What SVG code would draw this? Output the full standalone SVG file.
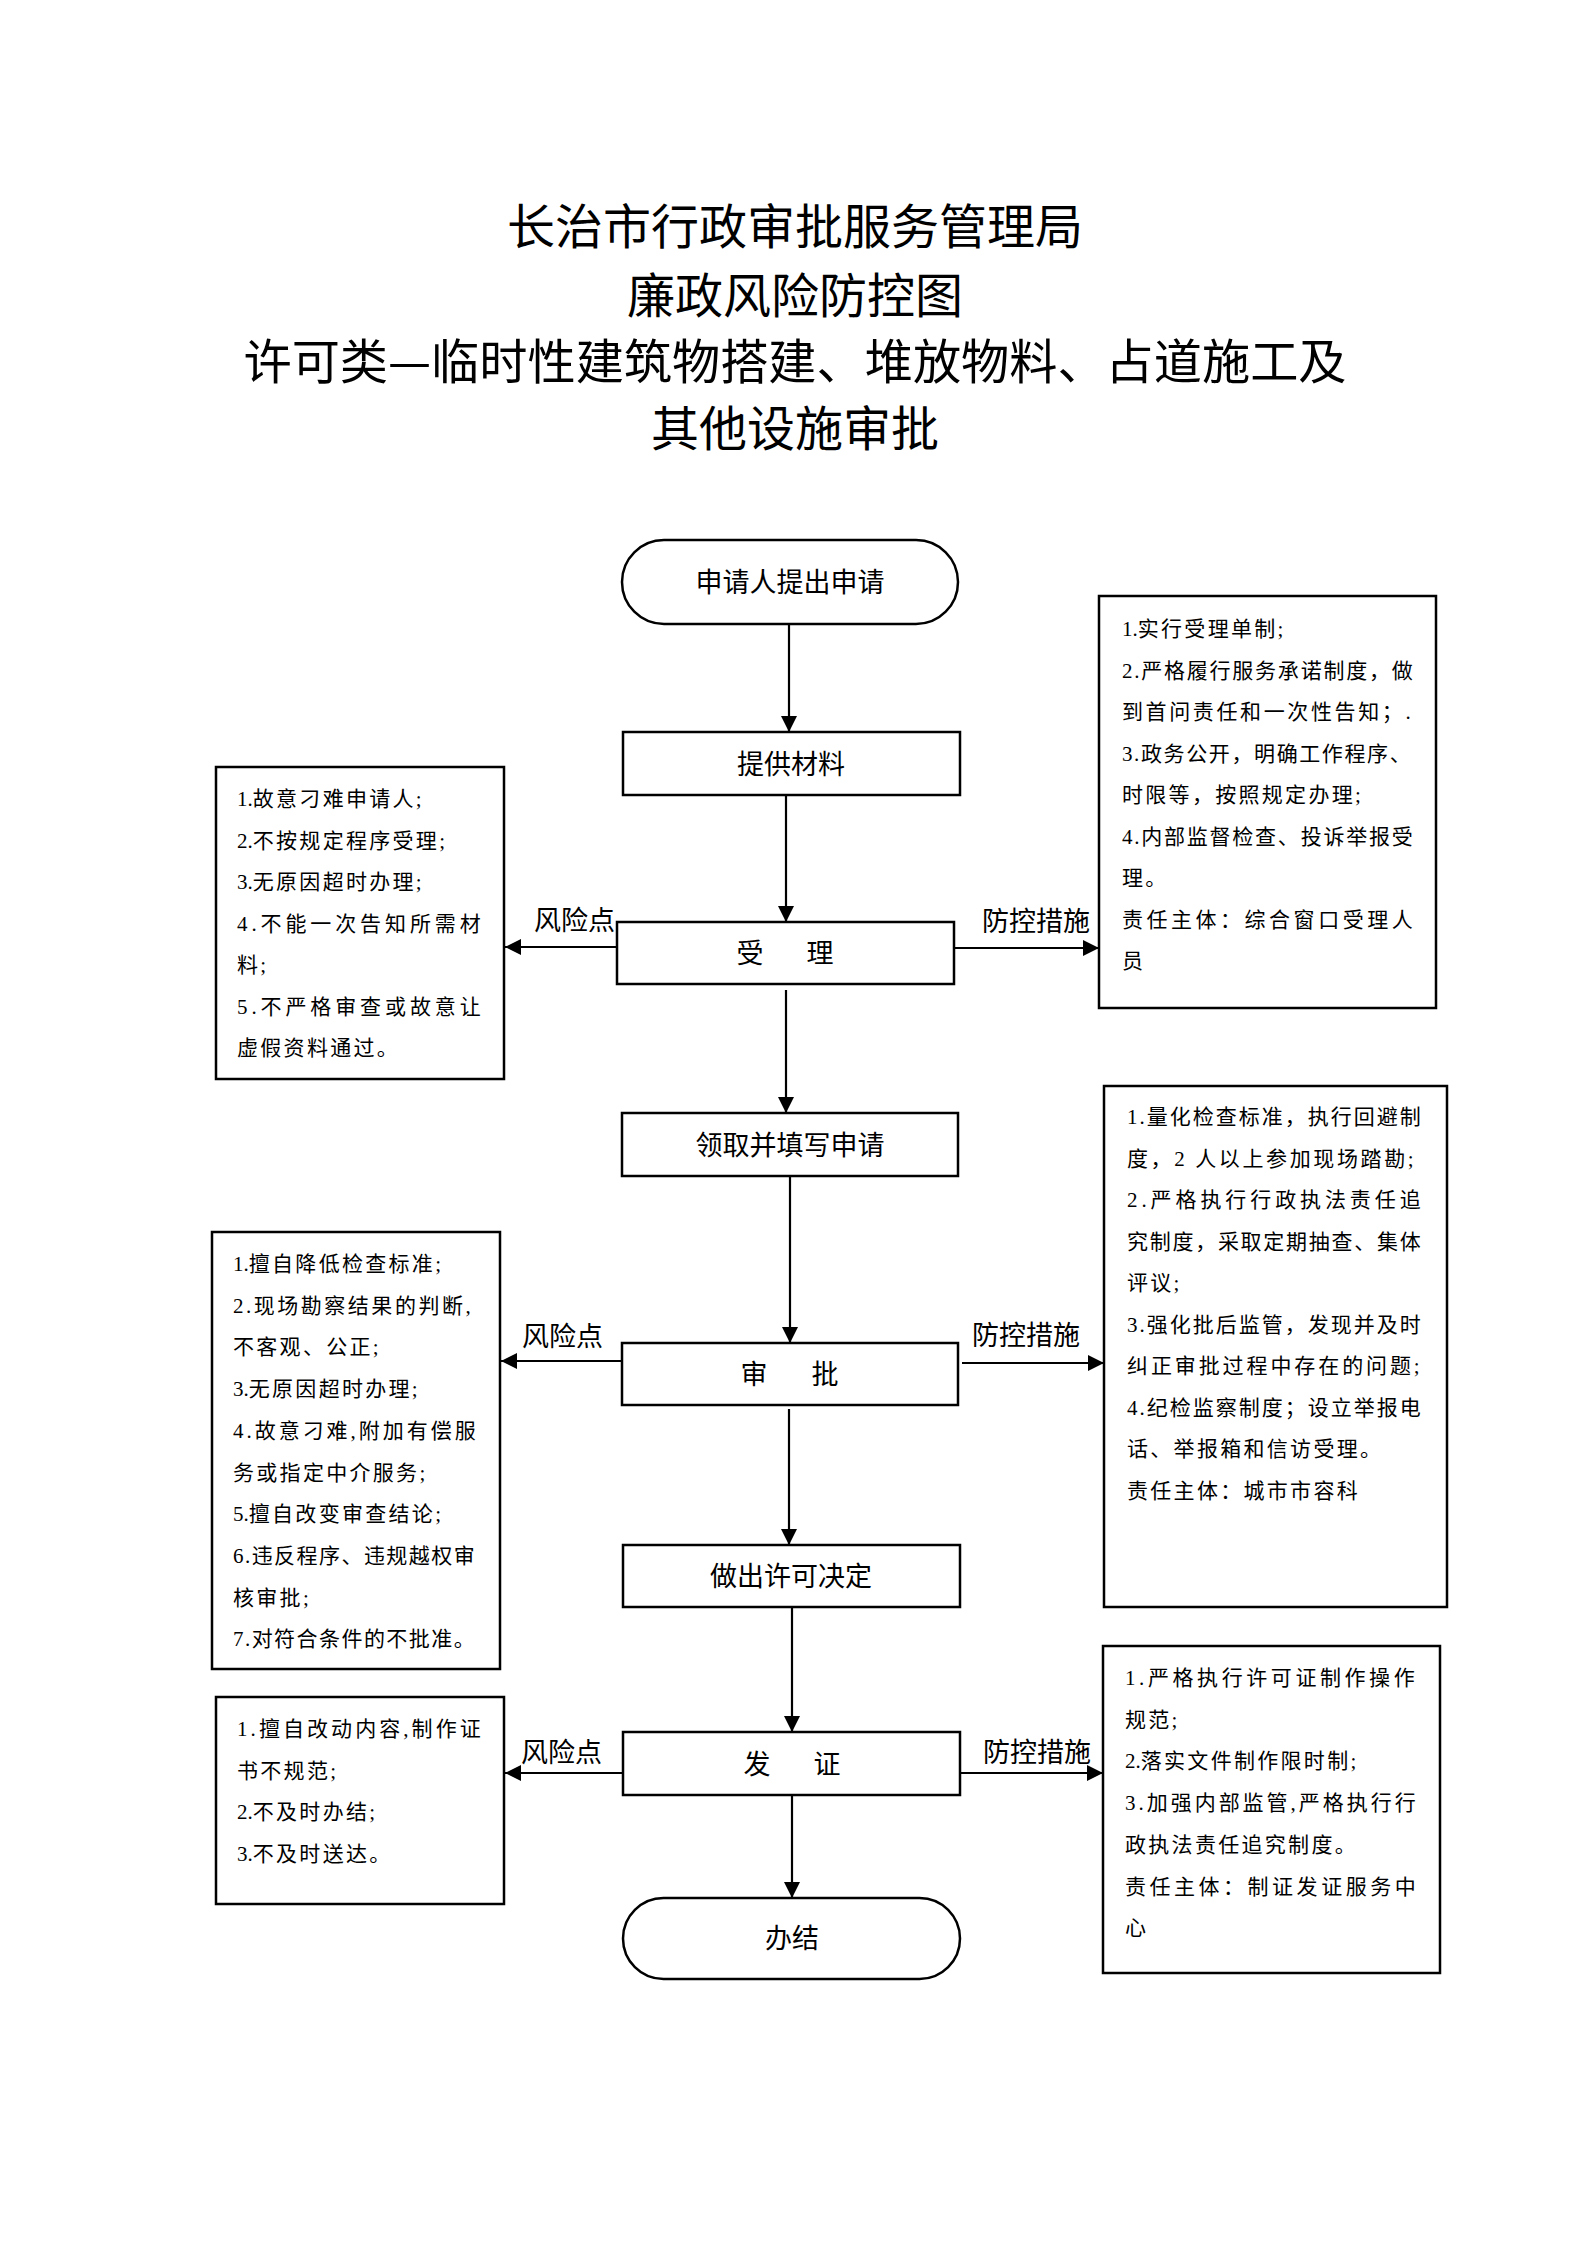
<svg xmlns="http://www.w3.org/2000/svg" width="1587" height="2245" viewBox="0 0 1587 2245">
<style>
.bg{fill:#fff}
.box{fill:#fff;stroke:#000;stroke-width:2.5}
.title{font-family:"Noto Sans CJK SC",sans-serif;font-size:48px;text-anchor:middle;fill:#000}
.nt{font-family:"Liberation Serif","Noto Sans CJK SC",serif;font-size:27px;text-anchor:middle;fill:#000}
.lb{font-family:"Liberation Serif","Noto Sans CJK SC",serif;font-size:27px;fill:#000}
.bt{font-family:"Liberation Serif","Noto Sans CJK SC",serif;font-size:21px;letter-spacing:2.3px;fill:#000}
.n{letter-spacing:0}
.conn{stroke:#000;stroke-width:2.2;fill:none;marker-end:url(#arr)}
</style>
<defs>
<marker id="arr" markerUnits="userSpaceOnUse" markerWidth="16" markerHeight="16" refX="16" refY="8" orient="auto"><path d="M0,0 L16,8 L0,16 z" fill="#000"/></marker>
</defs>
<rect class="bg" x="0" y="0" width="1587" height="2245"/>

<g id="title">
<text class="title" x="795" y="244">长治市行政审批服务管理局</text>
<text class="title" x="795" y="313">廉政风险防控图</text>
<text class="title" x="795" y="379" textLength="1103" lengthAdjust="spacingAndGlyphs">许可类—临时性建筑物搭建、堆放物料、占道施工及</text>
<text class="title" x="795" y="446">其他设施审批</text>
</g>

<g id="connectors">
<line class="conn" x1="789" y1="624" x2="789" y2="732"/>
<line class="conn" x1="786" y1="795" x2="786" y2="922"/>
<line class="conn" x1="786" y1="990" x2="786" y2="1113"/>
<line class="conn" x1="790" y1="1176" x2="790" y2="1343"/>
<line class="conn" x1="789" y1="1409" x2="789" y2="1545"/>
<line class="conn" x1="792" y1="1607" x2="792" y2="1732"/>
<line class="conn" x1="792" y1="1795" x2="792" y2="1898"/>
<line class="conn" x1="617" y1="947" x2="505" y2="947"/>
<line class="conn" x1="954" y1="948" x2="1099" y2="948"/>
<line class="conn" x1="622" y1="1361" x2="501" y2="1361"/>
<line class="conn" x1="962" y1="1363" x2="1104" y2="1363"/>
<line class="conn" x1="623" y1="1773" x2="505" y2="1773"/>
<line class="conn" x1="960" y1="1773" x2="1103" y2="1773"/>
<text class="lb" x="534" y="930">风险点</text>
<text class="lb" x="982" y="931">防控措施</text>
<text class="lb" x="522" y="1346">风险点</text>
<text class="lb" x="972" y="1345">防控措施</text>
<text class="lb" x="521" y="1762">风险点</text>
<text class="lb" x="983" y="1762">防控措施</text>
</g>

<g id="start">
<rect class="box" x="622" y="540" width="336" height="84" rx="42" ry="42"/>
<text class="nt" x="790" y="592">申请人提出申请</text>
</g>
<g id="materials">
<rect class="box" x="623" y="732" width="337" height="63"/>
<text class="nt" x="791" y="774">提供材料</text>
</g>
<g id="accept">
<rect class="box" x="617" y="922" width="337" height="62"/>
<text class="nt" y="963"><tspan x="750">受</tspan><tspan x="820">理</tspan></text>
</g>
<g id="fill-apply">
<rect class="box" x="622" y="1113" width="336" height="63"/>
<text class="nt" x="790" y="1155">领取并填写申请</text>
</g>
<g id="approve">
<rect class="box" x="622" y="1343" width="336" height="62"/>
<text class="nt" y="1384"><tspan x="754">审</tspan><tspan x="825">批</tspan></text>
</g>
<g id="decide">
<rect class="box" x="623" y="1545" width="337" height="62"/>
<text class="nt" x="791" y="1586">做出许可决定</text>
</g>
<g id="issue">
<rect class="box" x="623" y="1732" width="337" height="63"/>
<text class="nt" y="1774"><tspan x="757">发</tspan><tspan x="827">证</tspan></text>
</g>
<g id="end">
<rect class="box" x="623" y="1898" width="337" height="81" rx="40.5" ry="40.5"/>
<text class="nt" x="792" y="1948">办结</text>
</g>

<g id="risk1">
<rect class="box" x="216" y="767" width="288" height="312"/>
<text class="bt" x="237" y="806"><tspan class="n">1.</tspan>故意刁难申请人;</text>
<text class="bt" x="237" y="847.5"><tspan class="n">2.</tspan>不按规定程序受理;</text>
<text class="bt" x="237" y="889"><tspan class="n">3.</tspan>无原因超时办理;</text>
<text class="bt" x="237" y="930.5" textLength="246" lengthAdjust="spacing">4.不能一次告知所需材</text>
<text class="bt" x="237" y="972">料;</text>
<text class="bt" x="237" y="1013.5" textLength="246" lengthAdjust="spacing">5.不严格审查或故意让</text>
<text class="bt" x="237" y="1055">虚假资料通过。</text>
</g>

<g id="measure1">
<rect class="box" x="1099" y="596" width="337" height="412"/>
<text class="bt" x="1122" y="636"><tspan class="n">1.</tspan>实行受理单制;</text>
<text class="bt" x="1122" y="677.5" textLength="293" lengthAdjust="spacing">2.严格履行服务承诺制度，做</text>
<text class="bt" x="1122" y="719" textLength="291" lengthAdjust="spacing">到首问责任和一次性告知；.</text>
<text class="bt" x="1122" y="760.5" textLength="291" lengthAdjust="spacing">3.政务公开，明确工作程序、</text>
<text class="bt" x="1122" y="802">时限等，按照规定办理;</text>
<text class="bt" x="1122" y="843.5" textLength="293" lengthAdjust="spacing">4.内部监督检查、投诉举报受</text>
<text class="bt" x="1122" y="885">理。</text>
<text class="bt" x="1122" y="926.5" textLength="293" lengthAdjust="spacing">责任主体：综合窗口受理人</text>
<text class="bt" x="1122" y="968">员</text>
</g>

<g id="risk2">
<rect class="box" x="212" y="1232" width="288" height="437"/>
<text class="bt" x="233" y="1271"><tspan class="n">1.</tspan>擅自降低检查标准;</text>
<text class="bt" x="233" y="1312.7" textLength="240" lengthAdjust="spacing">2.现场勘察结果的判断,</text>
<text class="bt" x="233" y="1354.4">不客观、公正;</text>
<text class="bt" x="233" y="1396.1"><tspan class="n">3.</tspan>无原因超时办理;</text>
<text class="bt" x="233" y="1437.8" textLength="245" lengthAdjust="spacing">4.故意刁难,附加有偿服</text>
<text class="bt" x="233" y="1479.5">务或指定中介服务;</text>
<text class="bt" x="233" y="1521.2"><tspan class="n">5.</tspan>擅自改变审查结论;</text>
<text class="bt" x="233" y="1562.9" textLength="244" lengthAdjust="spacing">6.违反程序、违规越权审</text>
<text class="bt" x="233" y="1604.6">核审批;</text>
<text class="bt" x="233" y="1646.3" textLength="244" lengthAdjust="spacing">7.对符合条件的不批准。</text>
</g>

<g id="measure2">
<rect class="box" x="1104" y="1086" width="343" height="521"/>
<text class="bt" x="1127" y="1124" textLength="296" lengthAdjust="spacing">1.量化检查标准，执行回避制</text>
<text class="bt" x="1127" y="1165.5" textLength="289" lengthAdjust="spacing">度，2 人以上参加现场踏勘;</text>
<text class="bt" x="1127" y="1207" textLength="296" lengthAdjust="spacing">2.严格执行行政执法责任追</text>
<text class="bt" x="1127" y="1248.5" textLength="296" lengthAdjust="spacing">究制度，采取定期抽查、集体</text>
<text class="bt" x="1127" y="1290">评议;</text>
<text class="bt" x="1127" y="1331.5" textLength="296" lengthAdjust="spacing">3.强化批后监管，发现并及时</text>
<text class="bt" x="1127" y="1373" textLength="295" lengthAdjust="spacing">纠正审批过程中存在的问题;</text>
<text class="bt" x="1127" y="1414.5" textLength="296" lengthAdjust="spacing">4.纪检监察制度；设立举报电</text>
<text class="bt" x="1127" y="1456">话、举报箱和信访受理。</text>
<text class="bt" x="1127" y="1497.5">责任主体：城市市容科</text>
</g>

<g id="risk3">
<rect class="box" x="216" y="1697" width="288" height="207"/>
<text class="bt" x="237" y="1736" textLength="246" lengthAdjust="spacing">1.擅自改动内容,制作证</text>
<text class="bt" x="237" y="1777.7">书不规范;</text>
<text class="bt" x="237" y="1819.4"><tspan class="n">2.</tspan>不及时办结;</text>
<text class="bt" x="237" y="1861.1"><tspan class="n">3.</tspan>不及时送达。</text>
</g>

<g id="measure3">
<rect class="box" x="1103" y="1646" width="337" height="327"/>
<text class="bt" x="1125" y="1685" textLength="292" lengthAdjust="spacing">1.严格执行许可证制作操作</text>
<text class="bt" x="1125" y="1726.7">规范;</text>
<text class="bt" x="1125" y="1768.4"><tspan class="n">2.</tspan>落实文件制作限时制;</text>
<text class="bt" x="1125" y="1810.1" textLength="293" lengthAdjust="spacing">3.加强内部监管,严格执行行</text>
<text class="bt" x="1125" y="1851.8">政执法责任追究制度。</text>
<text class="bt" x="1125" y="1893.5" textLength="293" lengthAdjust="spacing">责任主体：制证发证服务中</text>
<text class="bt" x="1125" y="1935.2">心</text>
</g>
</svg>
